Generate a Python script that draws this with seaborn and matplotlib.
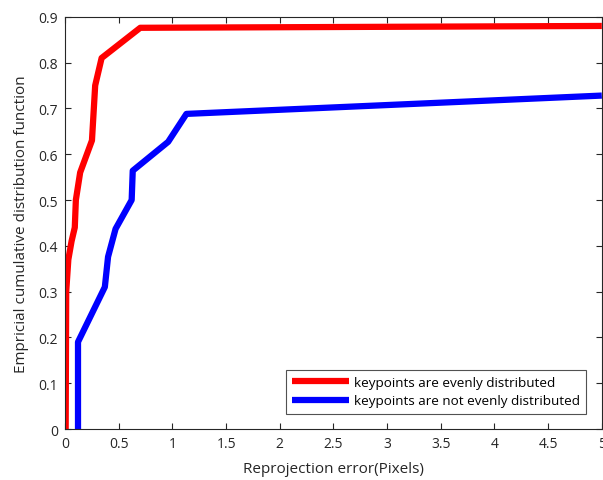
import matplotlib
matplotlib.use("Agg")
import matplotlib.pyplot as plt
import seaborn as sns
import pandas as pd

even_x = [0.005, 0.01, 0.03, 0.06, 0.09, 0.10, 0.14, 0.25, 0.28, 0.34, 0.70, 5.0]
even_y = [0.0, 0.30, 0.37, 0.41, 0.44, 0.50, 0.56, 0.63, 0.75, 0.81, 0.876, 0.880]
uneven_x = [0.12, 0.12, 0.37, 0.40, 0.47, 0.62, 0.63, 0.96, 1.13, 5.0]
uneven_y = [0.0, 0.19, 0.31, 0.376, 0.437, 0.50, 0.564, 0.627, 0.688, 0.728]
labels = ["keypoints are evenly distributed", "keypoints are not evenly distributed"]
xticks = [0, 0.5, 1, 1.5, 2, 2.5, 3, 3.5, 4, 4.5, 5]
xticklabels = ["0", "0.5", "1", "1.5", "2", "2.5", "3", "3.5", "4", "4.5", "5"]
yticks = [0, 0.1, 0.2, 0.3, 0.4, 0.5, 0.6, 0.7, 0.8, 0.9]
yticklabels = ["0", "0.1", "0.2", "0.3", "0.4", "0.5", "0.6", "0.7", "0.8", "0.9"]

df = pd.concat([
    pd.DataFrame({"x": even_x, "y": even_y, "series": labels[0], "order": range(len(even_x))}),
    pd.DataFrame({"x": uneven_x, "y": uneven_y, "series": labels[1], "order": range(len(uneven_x))}),
])

sns.set_style("white")
plt.rcParams["font.family"] = ["Open Sans", "DejaVu Sans"]
txt = "#262626"

fig = plt.figure(figsize=(6.03, 4.81), dpi=100)
ax = fig.add_axes([0.108, 0.106, 0.89, 0.857])
sns.lineplot(data=df, x="x", y="y", hue="series", units="series", estimator=None, sort=False,
             palette={labels[0]: "#ff0000", labels[1]: "#0000ff"}, linewidth=4.5,
             solid_capstyle="butt", ax=ax)

ax.set_xlim(0, 5)
ax.set_ylim(0, 0.9)
ax.set_xticks(xticks)
ax.set_xticklabels(xticklabels)
ax.set_yticks(yticks)
ax.set_yticklabels(yticklabels)
ax.tick_params(direction="in", length=4, width=0.8, color="#262626", labelcolor=txt,
               labelsize=10, top=True, right=True, bottom=True, left=True, pad=5)
for s in ax.spines.values():
    s.set_color("#262626")
    s.set_linewidth(0.8)
ax.set_xlabel("Reprojection error(Pixels)", fontsize=11, color=txt, labelpad=7)
ax.set_ylabel("Empricial cumulative distribution function", fontsize=11, color=txt, labelpad=7)

leg = ax.legend(loc="lower right", fontsize=9.7, frameon=True, fancybox=False, handlelength=4.2,
                borderaxespad=1.15, handletextpad=0.4, borderpad=0.45, labelspacing=0.4)
leg.get_frame().set_edgecolor("#262626")
leg.get_frame().set_linewidth(0.8)
for line in leg.get_lines():
    line.set_solid_capstyle("butt")
for t in leg.get_texts():
    t.set_color("#000000")

fig.savefig("out.png", dpi=100)
